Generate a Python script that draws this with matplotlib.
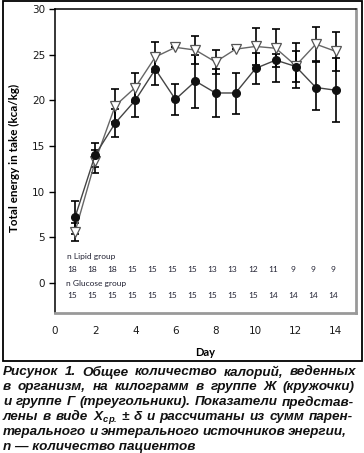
import numpy as np
import matplotlib
matplotlib.use("Agg")
from matplotlib import pyplot as plt
from matplotlib.patches import Rectangle

# days of observation
days = np.arange(1, 15)

# lipid group (circles): mean and lower / upper error
lipid = [7.2, 14.0, 17.5, 20.0, 23.4, 20.1, 22.1, 20.8, 20.8, 23.5, 24.4, 23.7, 21.4, 21.1]
lipid_lo = [1.8, 1.3, 1.5, 1.8, 1.75, 1.75, 2.9, 2.6, 2.3, 1.7, 2.35, 1.75, 2.5, 3.5]
lipid_hi = [1.8, 1.3, 1.5, 1.8, 1.75, 1.7, 2.9, 2.6, 2.2, 1.7, 0.65, 1.75, 2.8, 3.5]

# glucose group (triangles)
glucose = [5.6, 13.3, 19.4, 21.4, 24.75, 25.8, 25.5, 24.2, 25.6, 25.9, 25.7, 23.8, 26.15, 25.35]
glucose_err = [1.0, 1.3, 1.8, 1.6, 1.65, 0, 1.5, 1.3, 0, 2.0, 2.1, 2.5, 1.85, 2.1]

# number of patients per day
n_lipid = [18, 18, 18, 15, 15, 15, 15, 13, 13, 12, 11, 9, 9, 9]
n_glucose = [15, 15, 15, 15, 15, 15, 15, 15, 15, 15, 14, 14, 14, 14]

caption = [
    "Рисунок 1. Общее количество калорий, веденных",
    "в организм, на килограмм в группе Ж (кружочки)",
    "и группе Г (треугольники). Показатели представ-",
    r"лены в виде X$_{\mathregular{ср.}}$ ± δ и рассчитаны из сумм парен-",
    "терального и энтерального источников энергии,",
    "n — количество пациентов",
]
# right edge (px) of each justified caption line, None = not justified
caption_right = [356, 355, 354, 353, 347, None]

W, H = 364, 453
fig = plt.figure(figsize=(W / 100, H / 100), dpi=100)
ax = fig.add_axes([55 / W, 1 - 313 / H, 301 / W, 304 / H])

# outer frame
fig.patches.append(Rectangle((3 / W, 1 - 361 / H), 359 / W, 360 / H,
                             transform=fig.transFigure, fill=False,
                             edgecolor="black", linewidth=1.3))

ax.errorbar(days, lipid, yerr=[lipid_lo, lipid_hi], fmt="none", ecolor="black",
            elinewidth=1.2, capsize=3, capthick=1.2, zorder=2)
ax.errorbar(days, glucose, yerr=glucose_err, fmt="none", ecolor="black",
            elinewidth=1.2, capsize=3, capthick=1.2, zorder=2)
ax.plot(days, glucose, color="#666666", lw=1.0, marker="v", markersize=7.5,
        markerfacecolor="white", markeredgecolor="#555555", markeredgewidth=0.9, zorder=3)
ax.plot(days, lipid, color="#444444", lw=1.0, marker="o", markersize=5.5,
        markerfacecolor="#111111", markeredgecolor="#111111", zorder=4)

txt_col = "#222233"
ax.text(0.62, 2.85, "n Lipid group", fontsize=6, family="Lato", color=txt_col, va="center")
ax.text(0.56, -0.1, "n Glucose group", fontsize=6, family="Lato", color=txt_col, va="center")
for d, nl, ng in zip(days, n_lipid, n_glucose):
    ax.text(d - 0.15, 1.5, str(nl), fontsize=6, family="Lato", color=txt_col,
            ha="center", va="center")
    ax.text(d - 0.15, -1.4, str(ng), fontsize=6, family="Lato", color=txt_col,
            ha="center", va="center")

ax.set_xlim(0, 15)
ax.set_ylim(-3.3, 30)
ax.set_xticks(range(0, 15, 2))
ax.set_yticks(range(0, 31, 5))
ax.tick_params(axis="x", length=0, pad=9, labelsize=7.5, labelcolor="#1a1a1a")
ax.tick_params(axis="y", length=4, width=1, pad=3, labelsize=7.5, labelcolor="#1a1a1a")

ax.spines["left"].set_linewidth(1.1)
ax.spines["top"].set_linewidth(1.1)
ax.spines["right"].set_color("#999999")
ax.spines["right"].set_linewidth(2)
ax.spines["bottom"].set_color("#999999")
ax.spines["bottom"].set_linewidth(2)

ax.set_ylabel("Total energy in take (kca/kg)", fontsize=8.4, fontweight="bold", family="Lato")
ax.yaxis.set_label_coords((14 - 55) / 301, 0.51)
ax.yaxis.label.set_verticalalignment("center")
ax.set_xlabel("Day", fontsize=8, fontweight="bold", family="Lato")
ax.xaxis.set_label_coords(0.5, (313 - 353) / 304)
ax.xaxis.label.set_verticalalignment("center")

# caption, justified word by word
renderer = fig.canvas.get_renderer()
cap_font = dict(fontsize=9.7, family="Liberation Sans", fontweight="bold",
                style="italic", va="center", ha="left", color="#111111")
for i, line in enumerate(caption):
    y = 1 - (372 + 15 * i) / H
    right = caption_right[i]
    if right is None:
        fig.text(3 / W, y, line, **cap_font)
        continue
    words = line.split(" ")
    widths = []
    for w in words:
        t = fig.text(0, 0, w, **cap_font)
        widths.append(t.get_window_extent(renderer).width)
        t.remove()
    gap = (right - 3 - sum(widths)) / (len(words) - 1)
    x = 3.0
    for w, wd in zip(words, widths):
        fig.text(x / W, y, w, **cap_font)
        x += wd + gap

fig.savefig("out.png", dpi=100)
